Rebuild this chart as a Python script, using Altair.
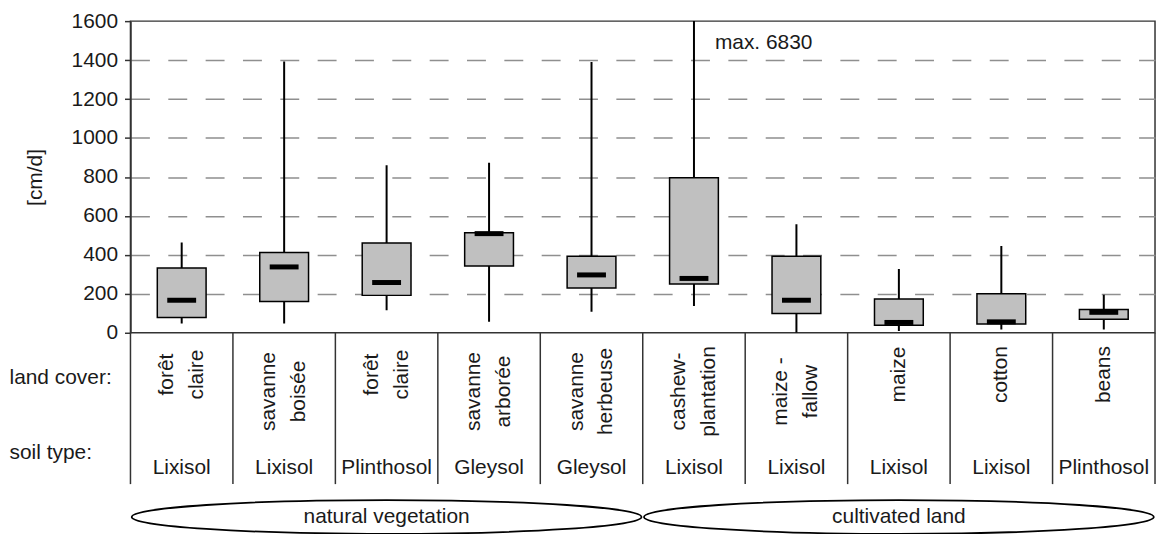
import json
import altair as alt
import pandas as pd

# ---------------- data ----------------
cat_ids = ["c1", "c2", "c3", "c4", "c5", "c6", "c7", "c8", "c9", "c10"]
land_cover = ["forêt\nclaire", "savanne\nboisée", "forêt\nclaire", "savanne\narborée",
              "savanne\nherbeuse", "cashew-\nplantation", "maize -\nfallow",
              "maize", "cotton", "beans"]
soil_type = ["Lixisol", "Lixisol", "Plinthosol", "Gleysol", "Gleysol",
             "Lixisol", "Lixisol", "Lixisol", "Lixisol", "Plinthosol"]
groups = ["natural vegetation", "cultivated land"]

v_min = [48, 48, 116, 56, 108, 138, 0, 9, 17, 17]
v_q1 = [79, 161, 192, 343, 230, 251, 99, 38, 45, 69]
v_med = [167, 338, 258, 509, 297, 279, 167, 53, 56, 105]
v_q3 = [333, 412, 461, 514, 393, 796, 393, 173, 200, 120]
v_max = [463, 1393, 860, 873, 1390, 6830, 557, 328, 446, 195]

y_ticks = [0, 200, 400, 600, 800, 1000, 1200, 1400, 1600]
row_names = ["land cover:", "soil type:"]
upper_labels = ["c1", "c3", "c8", "c9", "c10"]

FONT = "Liberation Sans"
INK = "#1a1a1a"
W = 1029

df = pd.DataFrame({"cat": cat_ids, "vmin": v_min, "q1": v_q1, "med": v_med,
                   "q3": v_q3, "vmax": v_max})

X = alt.X("cat:N", sort=cat_ids,
          scale=alt.Scale(type="band", paddingInner=0, paddingOuter=0), axis=None)

yax = alt.Axis(values=y_ticks, format="d", labelOverlap=False, title="[cm/d]",
               titleFontSize=21, titleFontWeight="normal",
               titleColor=INK, titlePadding=26, labelFontSize=21, labelColor=INK,
               labelPadding=7, tickSize=6, tickColor="#333", tickWidth=1.5,
               domainColor="#333", domainWidth=1.5, grid=True, gridDash=[19, 18.5],
               gridColor="#8f8f8f", gridWidth=1.5,
               gridOpacity={"condition": {"test": "datum.value == 0 || datum.value == 1600",
                                          "value": 0}, "value": 1})
ysc = alt.Scale(domain=[0, 1600], nice=False)

base = alt.Chart(df).encode(x=X)
whisk = base.mark_rule(color="black", strokeWidth=2, clip=True).encode(
    y=alt.Y("vmin:Q", scale=ysc, axis=yax), y2="vmax:Q")
box = base.mark_bar(size=49, color="#c0c0c0", stroke="black", strokeWidth=1.5,
                    opacity=1).encode(y=alt.Y("q1:Q", scale=ysc, axis=yax), y2="q3:Q")
med = base.mark_tick(color="black", thickness=5, size=29, orient="horizontal",
                     opacity=1).encode(y=alt.Y("med:Q", scale=ysc, axis=yax))

note_df = pd.DataFrame({"cat": [cat_ids[5]], "y": [1490], "t": [f"max. {v_max[5]}"]})
note = alt.Chart(note_df).mark_text(align="left", baseline="middle", dx=21, fontSize=21,
                                    color=INK).encode(
    x=X, y=alt.Y("y:Q", scale=ysc, axis=yax), text="t:N")

top = alt.layer(whisk, box, med, note).properties(width=W, height=313)

# ---------------- table below the axis ----------------
tab_rows = []
for c, lc, st in zip(cat_ids, land_cover, soil_type):
    tab_rows.append({"cat": c, "row": row_names[0], "label": lc})
    tab_rows.append({"cat": c, "row": row_names[1], "label": st})
tab = pd.DataFrame(tab_rows)

Yrow = alt.Y("row:N", scale=alt.Scale(type="point", domain=row_names, range=[45, 120],
                                      padding=0),
             axis=alt.Axis(title=None, domain=False, ticks=False, tickSize=0,
                           labelAlign="left", labelPadding=122, labelFontSize=21,
                           labelColor=INK, labelBaseline="middle"))

up_list = json.dumps(upper_labels)
is_lc = f"datum.row == {json.dumps(row_names[0])}"
is_up = f"indexof({up_list}, datum.cat) >= 0"
two_lines = "indexof(datum.label, '\\n') >= 0"
tbase = alt.Chart(tab).encode(x=X, y=Yrow, text="label:N")
rot = dict(angle=270, align="center", baseline="middle", lineBreak="\n", lineHeight=30,
           fontSize=21, color=INK)
# rotated text: dx moves along the reading direction (screen up), dy across it (screen right)
lc_up2 = tbase.transform_filter(f"{is_lc} && {is_up} && {two_lines}").mark_text(
    dx=3, dy=-15, **rot)
lc_up1 = tbase.transform_filter(f"{is_lc} && {is_up} && !({two_lines})").mark_text(
    dx=3, dy=0, **rot)
lc_low2 = tbase.transform_filter(f"{is_lc} && !({is_up})").mark_text(
    dx=-14, dy=-15, **rot)
soil = tbase.transform_filter(f"datum.row == {json.dumps(row_names[1])}").mark_text(
    align="center", baseline="middle", fontSize=21, color=INK, dy=16)

cats_df = pd.DataFrame({"cat": cat_ids})
div_left = alt.Chart(cats_df).mark_rule(color="#333", strokeWidth=1.5).encode(
    x=alt.X("cat:N", sort=cat_ids, bandPosition=0,
            scale=alt.Scale(type="band", paddingInner=0, paddingOuter=0), axis=None))
div_right = alt.Chart(cats_df).transform_filter(
    f"datum.cat == {json.dumps(cat_ids[-1])}").mark_rule(
    color="#333", strokeWidth=1.5).encode(
    x=alt.X("cat:N", sort=cat_ids, bandPosition=1,
            scale=alt.Scale(type="band", paddingInner=0, paddingOuter=0), axis=None))

table = alt.layer(div_left, div_right, lc_up2, lc_up1, lc_low2, soil).properties(
    width=W, height=152, view=alt.ViewBackground(stroke="transparent"))

# ---------------- group ellipses ----------------
gdf = pd.DataFrame({"group": groups})
ry = 17 / 256
k = 0.5523 * ry
ellipse_path = (f"M -1 0 C -1 {-k} {-0.5523} {-ry} 0 {-ry} "
                f"C 0.5523 {-ry} 1 {-k} 1 0 "
                f"C 1 {k} 0.5523 {ry} 0 {ry} "
                f"C {-0.5523} {ry} -1 {k} -1 0 Z")
GX = alt.X("group:N", sort=groups,
           scale=alt.Scale(type="band", paddingInner=0, paddingOuter=0), axis=None)
ell = alt.Chart(gdf).mark_point(shape=ellipse_path, size=512 * 512, filled=False,
                                color="black", strokeWidth=1.8, opacity=1).encode(x=GX)
gtxt = alt.Chart(gdf).mark_text(fontSize=21, color=INK, baseline="middle").encode(
    x=GX, text="group:N")
ellipses = alt.layer(ell, gtxt).properties(
    width=W, height=66, view=alt.ViewBackground(stroke="transparent"))

chart = alt.vconcat(top, table, ellipses, spacing=0, bounds="flush").configure(
    font=FONT, padding=0
).configure_view(stroke="#333", strokeWidth=1.5)

chart.save("out.html", embed_options={"renderer": "svg", "actions": False})
